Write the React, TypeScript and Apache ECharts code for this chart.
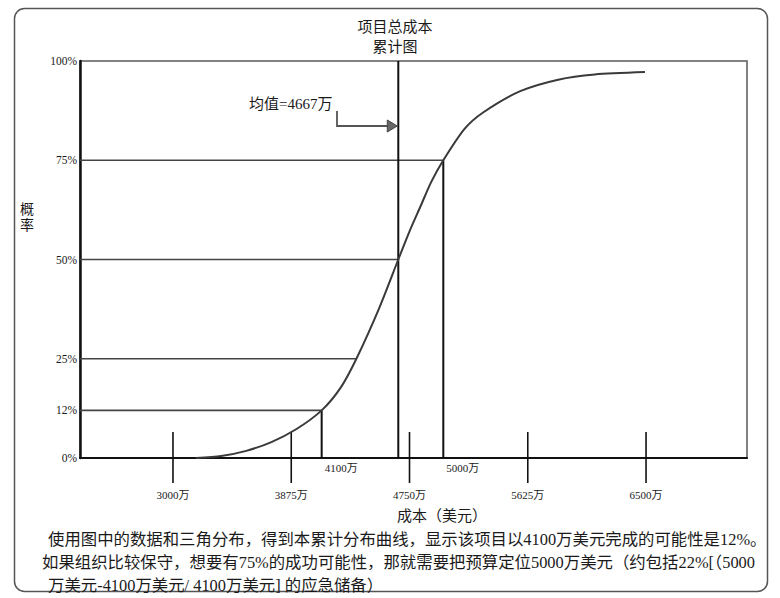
import React, { useEffect, useRef } from 'react';
import * as echarts from 'echarts';

// ---- texts ----
const titleText = '项目总成本\n累计图';
const yAxisName = '概率';
const xAxisName = '成本（美元）';
const meanLabel = '均值=4667万';
const notes = [
  '使用图中的数据和三角分布，得到本累计分布曲线，显示该项目以4100万美元完成的可能性是12%。',
  '如果组织比较保守，想要有75%的成功可能性，那就需要把预算定位5000万美元（约包括22%[（5000',
  '万美元-4100万美元/ 4100万美元] 的应急储备）',
];

// ---- axes ----
const yTickValues = [0, 12, 25, 50, 75, 100];
const xTickValues = [3000, 3875, 4750, 5625, 6500];
const xTickLabels = ['3000万', '3875万', '4750万', '5625万', '6500万'];

// ---- cumulative curve: cost (万美元) vs probability (%) ----
const curveCost = [3170, 3356, 3542, 3728, 3914, 4100, 4242, 4357, 4525, 4667, 4750, 4834, 4910, 5000, 5157, 5297, 5569, 5850, 6121, 6492];
const curveProb = [0, 0.5, 1.8, 4.0, 7.3, 12, 17.8, 25, 37.7, 50, 57.1, 63.6, 69.5, 75, 82.9, 87.1, 92.4, 95.3, 96.6, 97.2];

// ---- guide lines ----
const hGuideCost = [4100, 4357, 4667, 5000];
const hGuideProb = [12, 25, 50, 75];
const vGuideCost = [4100, 4667, 5000];
const vGuideTop = [12, 100, 75];
const vGuideLabels = ['4100万', '', '5000万'];
const meanCost = 4667;

export default function App() {
  const ref = useRef<HTMLDivElement>(null);
  useEffect(() => {
    const chart = echarts.init(ref.current!, null, { renderer: 'svg' });
    const serif = "'Liberation Serif','Noto Sans CJK SC',serif";
    const X_MIN = 2312;
    const X_MAX = 7247;
    const ink = '#1a1a1a';

    chart.setOption({
      animation: false,
      backgroundColor: '#ffffff',
      title: {
        text: titleText,
        left: 390,
        top: 12,
        textAlign: 'center',
        textStyle: { fontFamily: serif, fontSize: 15, fontWeight: 'normal', color: ink, lineHeight: 20 },
      },
      grid: {
        left: 80,
        top: 61,
        right: 33,
        bottom: 140,
        show: true,
        borderColor: '#5a5a5a',
        borderWidth: 1.5,
      },
      xAxis: {
        type: 'value',
        min: X_MIN,
        max: X_MAX,
        axisLine: { show: true, lineStyle: { color: '#111', width: 2 } },
        axisTick: { show: false },
        axisLabel: { show: false },
        splitLine: { show: false },
      },
      yAxis: {
        type: 'value',
        min: 0,
        max: 100,
        axisLine: { show: true, lineStyle: { color: '#111', width: 2.5 } },
        axisTick: { show: false },
        axisLabel: { show: false },
        splitLine: { show: false },
      },
      series: [
        {
          type: 'custom',
          name: 'hGuides',
          coordinateSystem: 'cartesian2d',
          encode: { x: 0, y: 1 },
          data: hGuideCost.map((c, i) => [c, hGuideProb[i]]),
          renderItem: (params: any, api: any) => {
            const p = api.coord([api.value(0), api.value(1)]);
            return {
              type: 'line',
              shape: { x1: params.coordSys.x, y1: p[1], x2: p[0], y2: p[1] },
              style: { stroke: '#444', lineWidth: 1.6 },
            };
          },
          z: 2,
        },
        {
          type: 'custom',
          name: 'vGuides',
          coordinateSystem: 'cartesian2d',
          encode: { x: 0, y: 1 },
          data: vGuideCost.map((c, i) => [c, vGuideTop[i], i]),
          renderItem: (params: any, api: any) => {
            const idx = api.value(2);
            const top = api.coord([api.value(0), api.value(1)]);
            const bot = api.coord([api.value(0), 0]);
            return {
              type: 'group',
              children: [
                {
                  type: 'line',
                  shape: { x1: top[0], y1: top[1], x2: bot[0], y2: bot[1] },
                  style: { stroke: '#111', lineWidth: 2 },
                },
                {
                  type: 'text',
                  x: bot[0] + 3,
                  y: bot[1] + 10,
                  style: {
                    text: vGuideLabels[idx],
                    font: `11px ${serif}`,
                    fill: ink,
                    textAlign: 'left',
                    textVerticalAlign: 'middle',
                  },
                },
              ],
            };
          },
          z: 3,
        },
        {
          type: 'custom',
          name: 'xTicks',
          coordinateSystem: 'cartesian2d',
          encode: { x: 0, y: 1 },
          data: xTickValues.map((v, i) => [v, 0, i]),
          renderItem: (params: any, api: any) => {
            const idx = api.value(2);
            const p = api.coord([api.value(0), 0]);
            return {
              type: 'group',
              children: [
                {
                  type: 'line',
                  shape: { x1: p[0], y1: p[1] - 26, x2: p[0], y2: p[1] + 25 },
                  style: { stroke: '#111', lineWidth: 1.6 },
                },
                {
                  type: 'text',
                  x: p[0],
                  y: p[1] + 37,
                  style: {
                    text: xTickLabels[idx],
                    font: `11px ${serif}`,
                    fill: ink,
                    textAlign: 'center',
                    textVerticalAlign: 'middle',
                  },
                },
              ],
            };
          },
          z: 3,
        },
        {
          type: 'custom',
          name: 'yLabels',
          coordinateSystem: 'cartesian2d',
          encode: { x: 0, y: 1 },
          data: yTickValues.map((v) => [X_MIN, v]),
          renderItem: (params: any, api: any) => {
            const p = api.coord([api.value(0), api.value(1)]);
            return {
              type: 'text',
              x: params.coordSys.x - 3,
              y: p[1],
              style: {
                text: `${api.value(1)}%`,
                font: `11.5px ${serif}`,
                fill: ink,
                textAlign: 'right',
                textVerticalAlign: 'middle',
              },
            };
          },
          z: 3,
        },
        {
          type: 'line',
          name: 'cumulative',
          data: curveCost.map((c, i) => [c, curveProb[i]]),
          smooth: 0.25,
          showSymbol: false,
          symbol: 'none',
          lineStyle: { color: '#3a3a3a', width: 2 },
          z: 4,
        },
      ],
    });

    const mx = chart.convertToPixel({ xAxisIndex: 0 }, meanCost) as number;
    const arrowY = 126;

    chart.setOption({
      graphic: [
        {
          type: 'rect',
          shape: { x: 14.5, y: 8.5, width: 753, height: 583, r: 10 },
          style: { fill: 'none', stroke: '#555', lineWidth: 1.5 },
          z: 0,
        },
        {
          type: 'text',
          x: 27,
          y: 217,
          style: {
            text: yAxisName.split('').join('\n'),
            font: `14px ${serif}`,
            fill: ink,
            textAlign: 'center',
            textVerticalAlign: 'middle',
            lineHeight: 16,
          },
        },
        {
          type: 'text',
          x: 442,
          y: 516,
          style: {
            text: xAxisName,
            font: `15px ${serif}`,
            fill: ink,
            textAlign: 'center',
            textVerticalAlign: 'middle',
          },
        },
        {
          type: 'text',
          x: 249,
          y: 104,
          style: {
            text: meanLabel,
            font: `15px ${serif}`,
            fill: ink,
            textAlign: 'left',
            textVerticalAlign: 'middle',
          },
        },
        {
          type: 'polyline',
          shape: { points: [[337, 111], [337, arrowY], [mx - 8, arrowY]] },
          style: { stroke: '#555', lineWidth: 1.8, fill: 'none' },
          z: 10,
        },
        {
          type: 'polygon',
          shape: { points: [[mx - 11, arrowY - 6], [mx - 1, arrowY], [mx - 11, arrowY + 6]] },
          style: { fill: '#666', stroke: '#444', lineWidth: 1 },
          z: 10,
        },
        ...notes.map((t, i) => ({
          type: 'text',
          x: i === 1 ? 42 : 48,
          y: 539 + i * 23,
          style: {
            text: t,
            font: `16.4px ${serif}`,
            fill: ink,
            textAlign: 'left',
            textVerticalAlign: 'middle',
          },
        })),
      ],
    });

    return () => chart.dispose();
  }, []);

  return (
    <div
      ref={ref}
      style={{ position: 'absolute', left: 0, top: 0, width: 780, height: 598, background: '#fff' }}
    />
  );
}
